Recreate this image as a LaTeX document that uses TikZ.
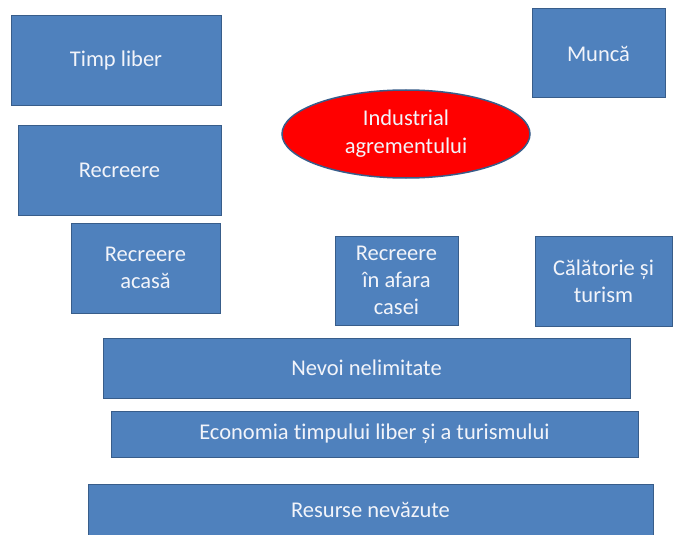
\documentclass[tikz,border=0pt]{standalone}
\usepackage{fontspec}
\setmainfont{Carlito}[Ligatures=NoCommon]
\usetikzlibrary{shapes.geometric}
\definecolor{boxblue}{HTML}{4F81BD}
\definecolor{boxedge}{HTML}{385D8A}
\definecolor{txt}{HTML}{F2F4FA}
\tikzset{
  blk/.style={draw=boxedge, line width=1pt, fill=boxblue, rectangle, text=txt,
    font=\fontsize{22.5}{27}\selectfont, align=center, inner sep=0pt},
  oval/.style={draw=boxedge, line width=1.5pt, fill=red, ellipse, text=txt,
    font=\fontsize{22.5}{28}\selectfont, align=center, inner sep=0pt}
}
\begin{document}
\begin{tikzpicture}[x=1pt,y=1pt]
\useasboundingbox (0,0) rectangle (673,-535);
\clip (0,0) rectangle (673,-535);
\fill[white] (0,0) rectangle (673,-535);
\node[blk, minimum width=210pt, minimum height=90pt] (timp) at (116,-61) {Timp liber};
\node[blk, minimum width=133pt, minimum height=89pt] (munca) at (598.5,-53.5) {Muncă};
\node[oval, minimum width=248pt, minimum height=88pt] (ind) at (406,-134) {Industrial\\agrementului};
\node[blk, minimum width=203pt, minimum height=89pt] (recr) at (119.5,-170.5) {Recreere};
\node[blk, minimum width=149pt, minimum height=90pt] (acasa) at (145.5,-268) {Recreere\\acasă};
\node[blk, minimum width=123pt, minimum height=89pt] (afara) at (396.5,-280.5) {Recreere\\în afara\\casei};
\node[blk, minimum width=137pt, minimum height=90pt] (calat) at (603.5,-281) {Călătorie și\\turism};
\node[blk, minimum width=527pt, minimum height=60pt] (nevoi) at (366.5,-368) {Nevoi nelimitate};
\node[blk, minimum width=527pt, minimum height=46pt] (econ) at (374.5,-434) {Economia timpului liber și a turismului};
\node[blk, minimum width=565pt, minimum height=62pt] (res) at (370.5,-515) {};
\node[text=txt, font=\fontsize{22.5}{27}\selectfont] (restext) at (370.5,-510) {Resurse nevăzute};
\end{tikzpicture}
\end{document}
